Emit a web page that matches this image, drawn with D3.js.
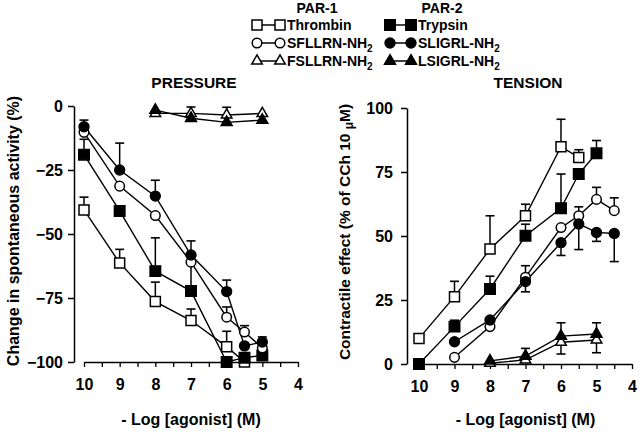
<!DOCTYPE html>
<html><head><meta charset="utf-8">
<script src="https://cdn.jsdelivr.net/npm/d3@7"></script>
<style>
html,body{margin:0;padding:0;background:#fff;}
svg{display:block;font-family:"Liberation Sans",Arial,sans-serif;font-weight:bold;}
</style></head>
<body>
<svg id="chart" width="640" height="435"></svg>
<script>
// ---- data ----
const xTickValues = [10, 9.5, 9, 8.5, 8, 7.5, 7, 6.5, 6, 5.5, 5, 4.5, 4];
const xTickLabels = ["10", "9", "8", "7", "6", "5", "4"];
const pressureTicks = [0, -25, -50, -75, -100];
const tensionTicks = [0, 25, 50, 75, 100];

// PRESSURE panel
const thrombinP_x = [10, 9, 8, 7, 6, 5.5];
const thrombinP_y = [-40.6, -61.3, -76.4, -83.8, -94, -100];
const thrombinP_e = [5, 5.3, 7.6, 4.5, 6, 0];
const sfllrnP_x = [10, 9, 8, 7, 6, 5.5, 5];
const sfllrnP_y = [-10.3, -31.3, -42.8, -61, -82.5, -88.3, -94.5];
const sfllrnP_e = [3, 0, 0, 0, 4, 2.5, 3];
const fsllrnP_x = [8, 7, 6, 5];
const fsllrnP_y = [-2.9, -2.9, -3.5, -2.9];
const fsllrnP_e = [0, 2.5, 3, 0];
const trypsinP_x = [10, 9, 8, 7, 6, 5.5, 5];
const trypsinP_y = [-19, -41, -64.5, -72.3, -100, -98.3, -97.5];
const trypsinP_e = [6, 0, 13, 11, 0, 0, 3];
const sligrlP_x = [10, 9, 8, 7, 6, 5.5, 5];
const sligrlP_y = [-8.1, -25, -35.2, -58.2, -72.5, -93.7, -92.2];
const sligrlP_e = [2.6, 10.5, 6.2, 5.5, 4.5, 0, 2];
const lsigrlP_x = [8, 7, 6, 5];
const lsigrlP_y = [-1.6, -4.8, -6.4, -5.5];
const lsigrlP_e = [0, 0, 0, 0];

// TENSION panel
const thrombinT_x = [10, 9, 8, 7, 6, 5.5];
const thrombinT_y = [10, 26.3, 44.9, 57.9, 84.9, 80.7];
const thrombinT_e = [0, 6, 13, 4.5, 10.7, 3];
const sfllrnT_x = [9, 8, 7, 6, 5.5, 5, 4.5];
const sfllrnT_y = [2.6, 14.6, 33.9, 53.3, 57.9, 64.3, 59.9];
const sfllrnT_e = [0, 0, 4.5, 0, 3.5, 4.7, 5];
const fsllrnT_x = [8, 7, 6, 5];
const fsllrnT_y = [0.3, 1.6, 8.5, 9.4];
const fsllrnT_e = [0, 0, 4.6, 5];
const trypsinT_x = [10, 9, 8, 7, 6, 5.5, 5];
const trypsinT_y = [0, 14.6, 29.3, 50.1, 60.8, 74.2, 82.3];
const trypsinT_e = [0, 2.5, 5, 4.5, 13.4, 0, 5];
const sligrlT_x = [9, 8, 7, 6, 5.5, 5, 4.5];
const sligrlT_y = [8.7, 17.2, 32.2, 47.4, 54.7, 51.4, 51.0];
const sligrlT_e = [0, 0, 4, 5, 10, 3.5, 11];
const lsigrlT_x = [8, 7, 6, 5];
const lsigrlT_y = [1.2, 3.1, 10.9, 11.7];
const lsigrlT_e = [0, 3, 5.2, 4.4];

// ---- drawing ----
const svg = d3.select("#chart");
const markerDefs = {
  oSquare: {type: d3.symbolSquare, size: 100, fill: "#fff"},
  oCircle: {type: d3.symbolCircle, size: 72, fill: "#fff"},
  oTri:    {type: d3.symbolTriangle, size: 48, fill: "#fff"},
  fSquare: {type: d3.symbolSquare, size: 110, fill: "#000"},
  fCircle: {type: d3.symbolCircle, size: 76, fill: "#000"},
  fTri:    {type: d3.symbolTriangle, size: 52, fill: "#000"}
};

function makeSeries(xs, ys, es, marker, dir) {
  return {pts: xs.map((x, i) => ({x: x, y: ys[i], e: es[i]})), marker: marker, dir: dir};
}

function drawPanel(cfg) {
  const x = d3.scaleLinear().domain([10, 4]).range(cfg.xRange);
  const y = d3.scaleLinear().domain(cfg.yDomain).range(cfg.yRange);
  const g = svg.append("g");

  // y axis
  const ya = g.append("g").attr("transform", `translate(${cfg.yAxisX},0)`)
    .call(d3.axisLeft(y).tickValues(cfg.yTicks).tickSize(6).tickSizeOuter(0).tickPadding(cfg.yPad));
  ya.select(".domain").attr("stroke-width", 1.5);
  ya.selectAll(".tick line").attr("stroke-width", 1.5);
  ya.selectAll(".tick text").attr("font-size", 16).attr("font-weight", "bold")
    .attr("font-family", "Liberation Sans, Arial, sans-serif").attr("fill", "#000");

  // x axis
  const xa = g.append("g").attr("transform", `translate(0,${cfg.xAxisY})`)
    .call(d3.axisBottom(x).tickValues(xTickValues).tickSize(5).tickSizeOuter(0).tickPadding(12)
      .tickFormat(d => Number.isInteger(d) ? xTickLabels[10 - d] : ""));
  xa.select(".domain").attr("stroke-width", 1.5);
  xa.selectAll(".tick line").attr("stroke-width", 1.3);
  xa.selectAll(".tick text").attr("font-size", 16).attr("font-weight", "bold")
    .attr("font-family", "Liberation Sans, Arial, sans-serif").attr("fill", "#000");

  // title
  g.append("text").attr("x", cfg.titleX).attr("y", 88).attr("text-anchor", "middle")
    .attr("font-size", 15.5).text(cfg.title);
  // x label
  g.append("text").attr("x", (cfg.xRange[0] + cfg.xRange[1]) / 2 + cfg.xLabelShift).attr("y", 425)
    .attr("text-anchor", "middle").attr("font-size", 16).text("- Log [agonist] (M)");

  const line = d3.line().x(d => x(d.x)).y(d => y(d.y));
  // lines
  cfg.series.forEach(s => {
    g.append("path").datum(s.pts).attr("d", line).attr("fill", "none")
      .attr("stroke", "#000").attr("stroke-width", 1.4);
  });
  // error bars
  cfg.series.forEach(s => {
    s.pts.filter(p => p.e > 0).forEach(p => {
      const y0 = y(p.y), y1 = y(p.y + s.dir * p.e);
      g.append("line").attr("x1", x(p.x)).attr("x2", x(p.x)).attr("y1", y0).attr("y2", y1)
        .attr("stroke", "#000").attr("stroke-width", 1.5);
      g.append("line").attr("x1", x(p.x) - 4.5).attr("x2", x(p.x) + 4.5).attr("y1", y1).attr("y2", y1)
        .attr("stroke", "#000").attr("stroke-width", 1.6);
    });
  });
  // markers
  cfg.series.forEach(s => {
    const m = markerDefs[s.marker];
    g.selectAll(null).data(s.pts).enter().append("path")
      .attr("d", d3.symbol().type(m.type).size(m.size))
      .attr("transform", d => `translate(${x(d.x)},${y(d.y)})`)
      .attr("fill", m.fill).attr("stroke", "#000").attr("stroke-width", 1.5);
  });
}

drawPanel({
  title: "PRESSURE", titleX: 194, xLabelShift: 0,
  xRange: [84, 298], yDomain: [0, -100], yRange: [106, 362], yAxisX: 74, xAxisY: 362,
  yTicks: pressureTicks, yPad: 5,
  series: [
    makeSeries(fsllrnP_x, fsllrnP_y, fsllrnP_e, "oTri", 1),
    makeSeries(lsigrlP_x, lsigrlP_y, lsigrlP_e, "fTri", 1),
    makeSeries(thrombinP_x, thrombinP_y, thrombinP_e, "oSquare", 1),
    makeSeries(trypsinP_x, trypsinP_y, trypsinP_e, "fSquare", 1),
    makeSeries(sfllrnP_x, sfllrnP_y, sfllrnP_e, "oCircle", 1),
    makeSeries(sligrlP_x, sligrlP_y, sligrlP_e, "fCircle", 1)
  ]
});

drawPanel({
  title: "TENSION", titleX: 528, xLabelShift: 0,
  xRange: [419, 632], yDomain: [0, 100], yRange: [364, 108], yAxisX: 407, xAxisY: 364,
  yTicks: tensionTicks, yPad: 8,
  series: [
    makeSeries(fsllrnT_x, fsllrnT_y, fsllrnT_e, "oTri", -1),
    makeSeries(lsigrlT_x, lsigrlT_y, lsigrlT_e, "fTri", 1),
    makeSeries(thrombinT_x, thrombinT_y, thrombinT_e, "oSquare", 1),
    makeSeries(trypsinT_x, trypsinT_y, trypsinT_e, "fSquare", 1),
    makeSeries(sfllrnT_x, sfllrnT_y, sfllrnT_e, "oCircle", 1),
    makeSeries(sligrlT_x, sligrlT_y, sligrlT_e, "fCircle", -1)
  ]
});

// y labels
svg.append("text").attr("transform", "translate(19,231) rotate(-90)").attr("text-anchor", "middle")
  .attr("font-size", 16).text("Change in spontaneous activity (%)");
const rl = svg.append("text").attr("transform", "translate(350,232) rotate(-90)").attr("text-anchor", "middle")
  .attr("font-size", 15.5);
rl.append("tspan").text("Contractile effect (% of CCh 10 ");
rl.append("tspan").attr("font-size", 12).attr("dy", 3).text("\u03BC");
rl.append("tspan").attr("dy", -3).text("M)");

// legend
const legendGroups = ["PAR-1", "PAR-2"];
const legendLeft = [["Thrombin", ""], ["SFLLRN-NH", "2"], ["FSLLRN-NH", "2"]];
const legendRight = [["Trypsin", ""], ["SLIGRL-NH", "2"], ["LSIGRL-NH", "2"]];
const legendMarkersLeft = ["oSquare", "oCircle", "oTri"];
const legendMarkersRight = ["fSquare", "fCircle", "fTri"];
const leg = svg.append("g");
leg.append("text").attr("x", 317).attr("y", 13).attr("text-anchor", "middle").attr("font-size", 14).text(legendGroups[0]);
leg.append("text").attr("x", 442).attr("y", 13).attr("text-anchor", "middle").attr("font-size", 14).text(legendGroups[1]);
const rowY = [25, 43, 61];
function legendCol(labels, markers, x1, x2, tx) {
  labels.forEach((lab, i) => {
    const cy = rowY[i];
    leg.append("line").attr("x1", x1).attr("x2", x2).attr("y1", cy).attr("y2", cy)
      .attr("stroke", "#000").attr("stroke-width", 1.5);
    const m = markerDefs[markers[i]];
    [x1, x2].forEach(cx => {
      leg.append("path").attr("d", d3.symbol().type(m.type).size(m.size))
        .attr("transform", `translate(${cx},${cy})`).attr("fill", m.fill)
        .attr("stroke", "#000").attr("stroke-width", 1.5);
    });
    const t = leg.append("text").attr("x", tx).attr("y", cy + 5).attr("font-size", 14);
    t.append("tspan").text(lab[0]);
    if (lab[1]) t.append("tspan").attr("font-size", 10).attr("dy", 4).text(lab[1]);
  });
}
legendCol(legendLeft, legendMarkersLeft, 257, 280, 287);
legendCol(legendRight, legendMarkersRight, 390, 411, 418);
</script>
</body></html>
